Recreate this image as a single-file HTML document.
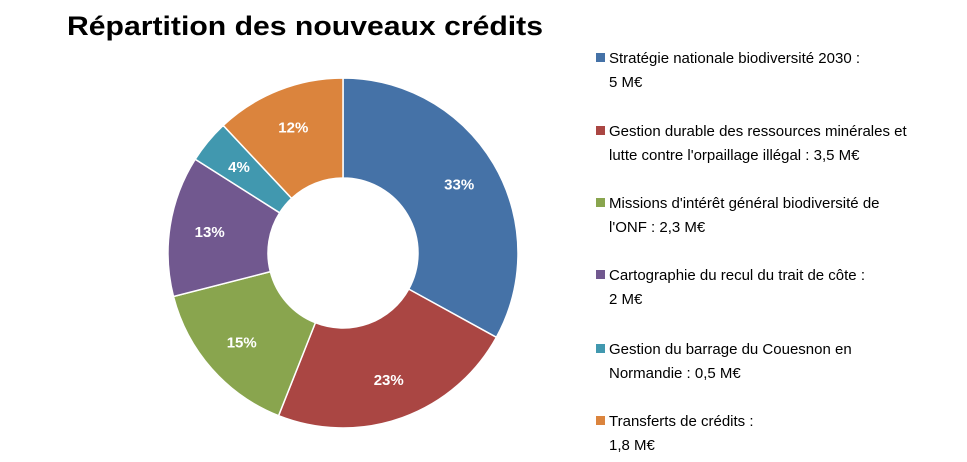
<!DOCTYPE html>
<html><head><meta charset="utf-8"><style>
body{margin:0;background:#fff;}
svg{display:block;font-family:"Liberation Sans",sans-serif;}
</style></head><body>
<svg id="chart" width="967" height="462">
<text x="67" y="35" font-size="27" font-weight="bold" fill="#000" textLength="476" lengthAdjust="spacingAndGlyphs">Répartition des nouveaux crédits</text>
<g id="slices"></g>
<g id="legend"></g>
</svg>
<script>
const categories=["Stratégie nationale biodiversité 2030","Gestion durable des ressources minérales","Missions d'intérêt général biodiversité ONF","Cartographie du recul du trait de côte","Gestion du barrage du Couesnon","Transferts de crédits"];
const values=[33,23,15,13,4,12];
const labels=["33%","23%","15%","13%","4%","12%"];
const legendLines=[["Stratégie nationale biodiversité 2030 :","5 M€"],["Gestion durable des ressources minérales et","lutte contre l'orpaillage illégal : 3,5 M€"],["Missions d'intérêt général biodiversité de","l'ONF : 2,3 M€"],["Cartographie du recul du trait de côte :","2 M€"],["Gestion du barrage du Couesnon en","Normandie : 0,5 M€"],["Transferts de crédits :","1,8 M€"]];
const colors=["#4572A7","#AA4643","#89A54E","#71588F","#4198AF","#DB843D"];
const NS="http://www.w3.org/2000/svg";
const cx=343,cy=253,R=175,r=75;
const total=values.reduce((a,b)=>a+b,0);
const g=document.getElementById('slices');
function pt(a,rad){return [cx+rad*Math.sin(a),cy-rad*Math.cos(a)];}
let acc=0;
values.forEach((v,i)=>{
 const a0=acc/total*2*Math.PI;acc+=v;const a1=acc/total*2*Math.PI;
 const large=(a1-a0)>Math.PI?1:0;
 const p0=pt(a0,R),p1=pt(a1,R),q1=pt(a1,r),q0=pt(a0,r);
 const p=document.createElementNS(NS,'path');
 p.setAttribute('d',`M${p0[0]},${p0[1]}A${R},${R} 0 ${large} 1 ${p1[0]},${p1[1]}L${q1[0]},${q1[1]}A${r},${r} 0 ${large} 0 ${q0[0]},${q0[1]}Z`);
 p.setAttribute('fill',colors[i]);p.setAttribute('stroke','#fff');p.setAttribute('stroke-width','1.5');
 
 
 g.appendChild(p);
 const m=pt((a0+a1)/2,135);
 const t=document.createElementNS(NS,'text');
 t.setAttribute('x',m[0]);t.setAttribute('y',m[1]+5);t.setAttribute('text-anchor','middle');
 t.setAttribute('font-size','15');t.setAttribute('font-weight','bold');t.setAttribute('fill','#fff');
 t.textContent=labels[i];
 
 
 g.appendChild(t);
});
const lg=document.getElementById('legend');
const ys=[63,136,208,280,354,426];
legendLines.forEach((ls,i)=>{
 const s=document.createElementNS(NS,'rect');
 s.setAttribute('x',596);s.setAttribute('y',ys[i]-10);s.setAttribute('width',9);s.setAttribute('height',9);s.setAttribute('fill',colors[i]);
 
 
 lg.appendChild(s);
 ls.forEach((line,j)=>{
  const t=document.createElementNS(NS,'text');
  t.setAttribute('x',609);t.setAttribute('y',ys[i]+j*24);t.setAttribute('font-size','15');t.setAttribute('fill','#000');
  t.textContent=line;
  
  
  lg.appendChild(t);
 });
});
</script>
</body></html>
